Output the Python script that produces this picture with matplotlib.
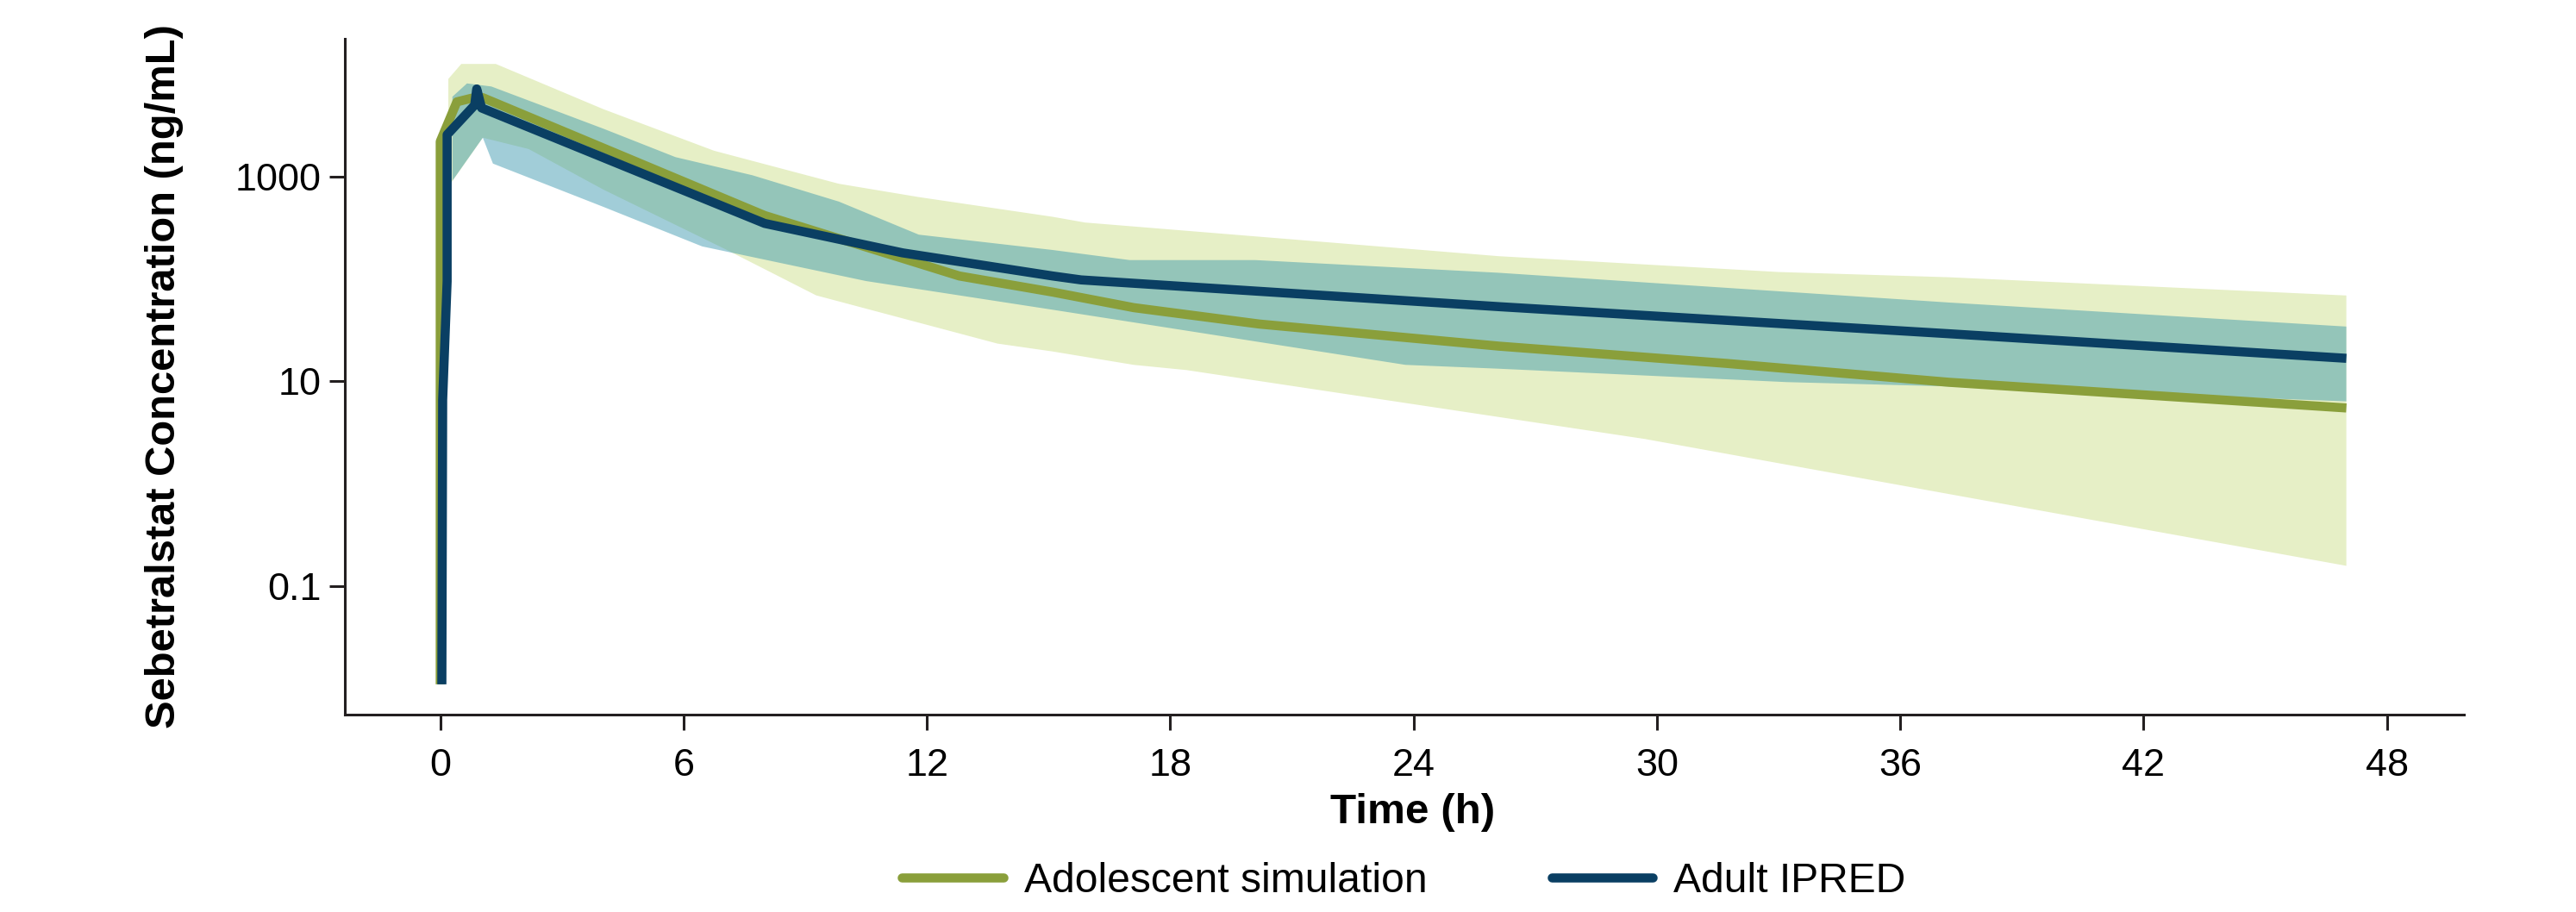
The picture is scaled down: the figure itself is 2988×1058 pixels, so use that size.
import numpy as np
import matplotlib.pyplot as plt
from matplotlib.lines import Line2D
from matplotlib.ticker import NullLocator

# Adolescent simulation: median line (time in h, concentration in ng/mL)
ado_t = [0, 0, 0.41, 0.77, 1.05, 8.0, 12.8, 15.1, 17.1, 20.2, 26.1, 31.7, 37.2, 47.0]
ado_med = [0.011, 2200, 5370, 5830, 5900, 417, 107, 74.5, 52.5, 36.3, 22.1, 15.0, 9.8, 5.5]

# Adolescent prediction interval (upper / lower edges)
ado_hi_t = [0.2, 0.52, 1.37, 4.02, 6.75, 9.83, 11.8, 15.1, 15.9, 26.1, 33.0, 37.2, 47.0]
ado_hi = [9000, 12600, 12600, 4560, 1790, 851, 631, 405, 356, 167, 117, 104, 69]
ado_lo_t = [0.2, 1.05, 2.18, 4.02, 7.07, 9.27, 13.74, 15.1, 17.1, 18.4, 26.1, 29.7, 37.2, 47.0]
ado_lo = [794, 2400, 1860, 748, 192, 69.2, 23.4, 19.6, 14.5, 12.9, 4.49, 2.74, 0.794, 0.158]

# Adult IPRED: median line
adu_t = [0.04, 0.06, 0.17, 0.17, 0.85, 0.90, 1.02, 8.0, 11.4, 15.1, 15.8, 26.1, 37.2, 47.0]
adu_med = [0.011, 6.6, 95, 2570, 5000, 7180, 4680, 349, 180, 107, 98, 53.7, 29.2, 16.8]

# Adult interval (upper / lower edges)
adu_hi_t = [0.3, 0.66, 1.26, 4.02, 5.8, 7.7, 9.83, 11.8, 15.1, 17.0, 20.1, 26.1, 37.2, 47.0]
adu_hi = [6030, 8130, 7590, 2940, 1550, 1030, 570, 271, 192, 153, 153, 115, 58.9, 34.3]
adu_lo_t = [0.3, 1.05, 1.3, 4.02, 6.46, 10.5, 15.1, 23.8, 26.1, 33.2, 37.2, 47.0]
adu_lo = [912, 2400, 1340, 507, 208, 95.5, 50.1, 14.5, 13.3, 9.84, 8.93, 6.38]

x_ticks = [0, 6, 12, 18, 24, 30, 36, 42, 48]
y_ticks = [0.1, 10, 1000]
y_tick_labels = ['0.1', '10', '1000']

olive = '#8a9f3b'
navy = '#0a3f63'
axis_col = '#231f20'

narrow = ['Liberation Sans Narrow', 'Liberation Sans', 'DejaVu Sans']
plt.rcParams['font.family'] = ['Liberation Sans', 'DejaVu Sans']

fig = plt.figure(figsize=(14.94, 5.29), dpi=200)
ax = fig.add_axes([0.1339, 0.2164, 0.8226, 0.7411])

# shaded intervals
ax.fill(np.r_[ado_hi_t, ado_lo_t[::-1]], np.r_[ado_hi, ado_lo[::-1]],
        color='#e6efc6', lw=0, zorder=1)
ax.fill(np.r_[adu_hi_t, adu_lo_t[::-1]], np.r_[adu_hi, adu_lo[::-1]],
        color='#3092aa', alpha=0.45, lw=0, zorder=2)

# median lines
ax.plot(ado_t, ado_med, color=olive, lw=3.8, solid_capstyle='butt',
        solid_joinstyle='round', zorder=3)
ax.plot(adu_t, adu_med, color=navy, lw=3.8, solid_capstyle='butt',
        solid_joinstyle='round', zorder=4)

ax.set_yscale('log')
ax.set_xlim(-2.35, 49.9)
ax.set_ylim(0.00556, 22200)
ax.set_xticks(x_ticks)
ax.set_xticklabels([str(v) for v in x_ticks])
ax.set_yticks(y_ticks)
ax.set_yticklabels(y_tick_labels)
ax.yaxis.set_minor_locator(NullLocator())

for side in ['top', 'right']:
    ax.spines[side].set_visible(False)
for side in ['left', 'bottom']:
    ax.spines[side].set_linewidth(1.1)
    ax.spines[side].set_color(axis_col)

ax.tick_params(axis='both', length=6.5, width=1.1, color=axis_col,
               labelsize=16.2, labelcolor='black')
ax.tick_params(axis='x', pad=7.5)
ax.tick_params(axis='y', pad=3.5)

fig.text(0.0639, 0.587, 'Sebetralstat Concentration (ng/mL)', rotation=90,
         ha='center', va='center', fontsize=17.6, fontweight='bold', family=narrow)
fig.text(0.5485, 0.1087, 'Time (h)', ha='center', va='center',
         fontsize=17.8, fontweight='bold', family=narrow)

handles = [Line2D([], [], color=olive, lw=3.8, solid_capstyle='round'),
           Line2D([], [], color=navy, lw=3.8, solid_capstyle='round')]
fig.legend(handles, ['Adolescent simulation', 'Adult IPRED'], loc='center',
           bbox_to_anchor=(0.545, 0.034), ncol=2, frameon=False,
           prop={'family': narrow, 'size': 17.3}, handlelength=2.45,
           handletextpad=0.5, columnspacing=3.0)

fig.savefig('out.png', dpi=200)
